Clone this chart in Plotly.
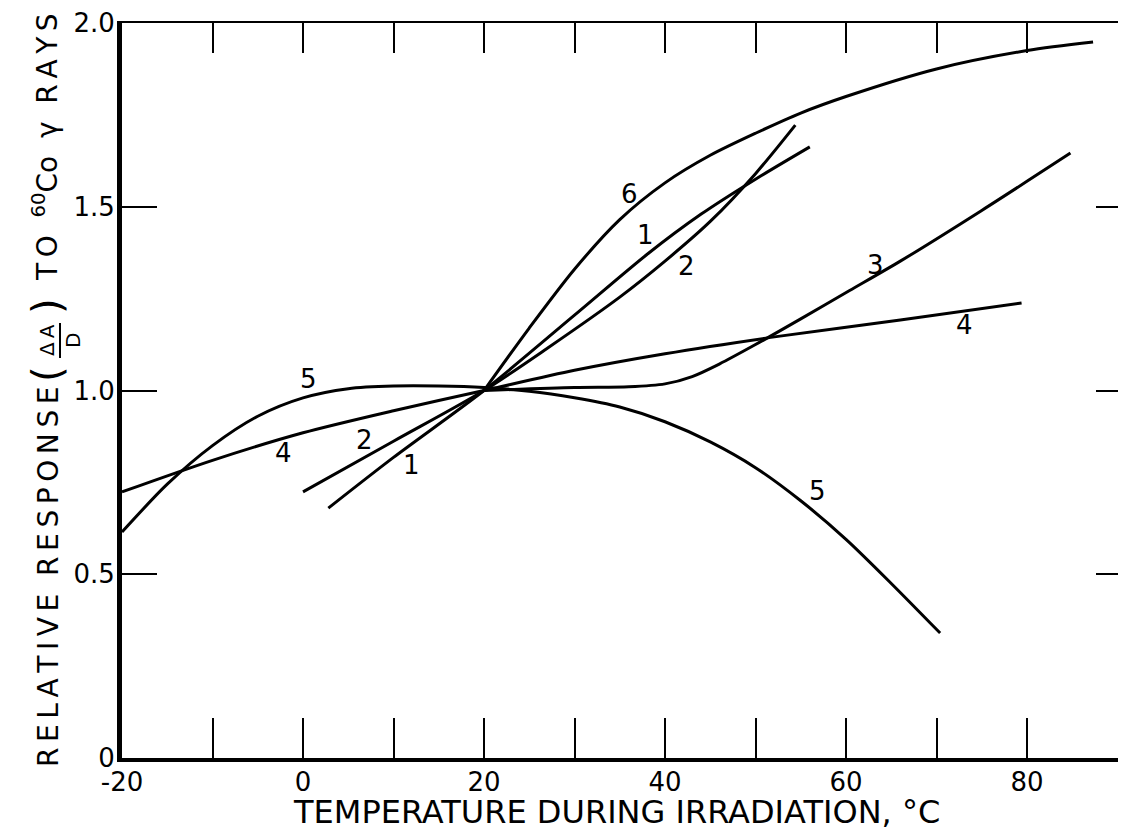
import plotly.graph_objects as go

# 读图得到的曲线数据 (温度 °C, 相对响应)
x1 = [2.8, 10, 20, 30, 38, 44, 50, 56]
y1 = [0.68, 0.818, 1.0, 1.205, 1.37, 1.48, 1.575, 1.663]

x2 = [0, 10, 20, 27, 35, 40, 45, 50, 54.4]
y2 = [0.724, 0.862, 1.0, 1.115, 1.254, 1.352, 1.46, 1.59, 1.722]

x3 = [20, 30, 36, 40, 43, 46, 50, 55, 60.4, 66, 75, 84.8]
y3 = [1.0, 1.008, 1.01, 1.018, 1.038, 1.072, 1.125, 1.195, 1.272, 1.352, 1.49, 1.646]

x4 = [-20, -10, 0, 10, 20, 30, 40, 52.7, 66, 79.4]
y4 = [0.724, 0.81, 0.885, 0.945, 1.0, 1.055, 1.10, 1.148, 1.192, 1.238]

x5 = [-20, -15, -10, -5, 0, 5, 10, 15, 20, 25, 30, 35, 40, 45, 50, 55, 60, 65, 70.4]
y5 = [0.615, 0.745, 0.85, 0.93, 0.98, 1.005, 1.012, 1.012, 1.008, 0.998, 0.98, 0.955,
      0.915, 0.86, 0.79, 0.70, 0.595, 0.475, 0.34]

x6 = [20, 25, 30, 35, 40, 45, 50, 55, 60, 70, 80, 87.3]
y6 = [1.0, 1.17, 1.33, 1.465, 1.565, 1.64, 1.70, 1.755, 1.80, 1.875, 1.925, 1.948]

# 曲线编号标注
label_text = ['6', '1', '2', '3', '4', '5', '4', '2', '1', '5']
label_x = [36.1, 37.8, 42.4, 63.3, 73.1, 0.66, -2.2, 6.85, 12.0, 56.9]
label_y = [1.535, 1.423, 1.339, 1.341, 1.178, 1.031, 0.83, 0.865, 0.797, 0.727]

x_ticks = [-20, -10, 0, 10, 20, 30, 40, 50, 60, 70, 80]
x_tick_text = ['-20', ' ', '0', ' ', '20', ' ', '40', ' ', '60', ' ', '80']
y_ticks = [0, 0.5, 1.0, 1.5, 2.0]
y_tick_text = ['0', '0.5', '1.0', '1.5', '2.0']

FONT = 'DejaVu Sans'
TS = '\u2009'  # 细空格，拉开字母间距
OFF = 8  # 页面 body 默认 8px 边距
W, H = 1126 - OFF, 832 - OFF
L, R, T, B = 122 - OFF, 0, 23 - OFF, 832 - 758

fig = go.Figure()
for xs, ys in [(x1, y1), (x2, y2), (x3, y3), (x4, y4), (x5, y5), (x6, y6)]:
    fig.add_trace(go.Scatter(x=xs, y=ys, mode='lines',
                             line=dict(color='black', width=3, shape='spline', smoothing=0.8),
                             showlegend=False, hoverinfo='skip'))

# 顶部和右侧的刻度轴用的占位 trace
fig.add_trace(go.Scatter(x=[None], y=[None], xaxis='x2', yaxis='y2', showlegend=False))

for t, xx, yy in zip(label_text, label_x, label_y):
    fig.add_annotation(x=xx, y=yy, text=t, showarrow=False,
                       font=dict(family=FONT, size=26, color='black'))

x_range = [-20, -20 + (W - L - R) / 9.05]

fig.update_layout(
    width=W, height=H,
    margin=dict(l=L, r=R, t=T, b=B),
    paper_bgcolor='white', plot_bgcolor='white',
    font=dict(family=FONT, color='black'),
    xaxis=dict(range=x_range, tickvals=x_ticks, ticktext=x_tick_text,
               ticks='inside', ticklen=40, tickwidth=2, tickcolor='black',
               showline=True, linewidth=4, linecolor='black',
               showgrid=False, zeroline=False, ticklabelstandoff=-2,
               tickfont=dict(size=26)),
    yaxis=dict(range=[0, 2.0], tickvals=y_ticks, ticktext=y_tick_text,
               ticks='inside', ticklen=35, tickwidth=2, tickcolor='black',
               showline=True, linewidth=5, linecolor='black',
               showgrid=False, zeroline=False, ticklabelstandoff=-3,
               tickfont=dict(size=26)),
    xaxis2=dict(range=x_range, overlaying='x', side='top', anchor='y',
                tickvals=x_ticks[1:], ticks='inside', ticklen=30, tickwidth=2,
                tickcolor='black', showticklabels=False,
                showline=True, linewidth=2, linecolor='black',
                showgrid=False, zeroline=False),
    yaxis2=dict(range=[0, 2.0], overlaying='y', side='right', anchor='x',
                tickvals=[0.5, 1.0, 1.5], ticks='inside', ticklen=30, tickwidth=2,
                tickcolor='black', showticklabels=False, showline=False,
                showgrid=False, zeroline=False),
)


# 屏幕像素 -> paper 坐标
def px(sx):
    return (sx - OFF - L) / (W - L - R)


def py(sy):
    return (H - B - (sy - OFF)) / (H - T - B)


def spaced(word):
    return TS.join(word)


# x 轴标题
fig.add_annotation(text='TEMPERATURE DURING IRRADIATION, °C', xref='paper', yref='paper',
                   x=px(616), y=py(812), xanchor='center', yanchor='middle',
                   showarrow=False, font=dict(size=32, color='black'))

# y 轴标题，分段拼出 (ΔA/D) 的分数形式
fig.add_annotation(text=spaced('RELATIVE') + '  ' + spaced('RESPONSE'), xref='paper', yref='paper',
                   x=px(48), y=py(769), xanchor='center', yanchor='bottom',
                   textangle=-90, showarrow=False, font=dict(size=28, color='black'))
fig.add_annotation(text='(', xref='paper', yref='paper',
                   x=px(47), y=py(374), xanchor='center', yanchor='middle',
                   textangle=-90, showarrow=False, font=dict(size=40, color='black'))
fig.add_annotation(text='Δ' + TS + 'A<br>D', xref='paper', yref='paper',
                   x=px(60), y=py(340), xanchor='center', yanchor='middle',
                   textangle=-90, showarrow=False, font=dict(size=20, color='black'))
fig.add_shape(type='line', xref='paper', yref='paper',
              x0=px(60), x1=px(60), y0=py(323), y1=py(358),
              line=dict(color='black', width=2))
fig.add_annotation(text=')', xref='paper', yref='paper',
                   x=px(47), y=py(306), xanchor='center', yanchor='middle',
                   textangle=-90, showarrow=False, font=dict(size=40, color='black'))
fig.add_annotation(text=spaced('TO') + '  <sup>60</sup>Co  γ  ' + spaced('RAYS'),
                   xref='paper', yref='paper',
                   x=px(46), y=py(283), xanchor='center', yanchor='bottom',
                   textangle=-90, showarrow=False, font=dict(size=28, color='black'))

fig.write_html('out.html')
